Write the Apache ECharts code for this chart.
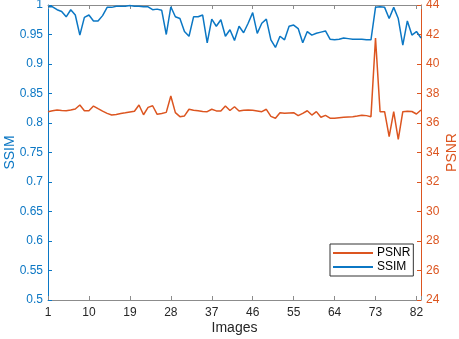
<!DOCTYPE html>
<html>
<head>
<meta charset="utf-8">
<script src="https://cdn.jsdelivr.net/npm/echarts@6/dist/echarts.min.js"></script>
<style>
  html, body { margin: 0; padding: 0; background: #fff; }
  #chart { width: 459px; height: 339px; }
</style>
</head>
<body>
<div id="chart"></div>
<script>
// image index 1..83
var images = [];
for (var n = 1; n <= 83; n++) images.push(n);

var ssim = [
  0.997, 0.997, 0.992, 0.989, 0.980, 0.992, 0.983, 0.949, 0.979, 0.983,
  0.973, 0.973, 0.982, 0.996, 0.996, 0.998, 0.998, 0.998, 0.999, 0.998,
  0.998, 0.997, 0.997, 0.992, 0.993, 0.991, 0.950, 0.997, 0.980, 0.977,
  0.955, 0.947, 0.980, 0.980, 0.983, 0.936, 0.976, 0.964, 0.975, 0.947,
  0.958, 0.940, 0.964, 0.953, 0.969, 0.987, 0.952, 0.969, 0.976, 0.941,
  0.928, 0.947, 0.941, 0.964, 0.966, 0.960, 0.936, 0.955, 0.949, 0.952,
  0.954, 0.956, 0.942, 0.941, 0.942, 0.944, 0.943, 0.942, 0.942, 0.942,
  0.941, 0.941, 0.996, 0.997, 0.996, 0.977, 0.996, 0.977, 0.932, 0.973,
  0.949, 0.955, 0.944
];

var psnr = [
  36.77, 36.83, 36.88, 36.85, 36.83, 36.88, 36.95, 37.22, 36.83, 36.83,
  37.15, 36.97, 36.80, 36.65, 36.54, 36.58, 36.64, 36.69, 36.75, 36.80,
  37.22, 36.56, 37.06, 37.17, 36.59, 36.65, 36.72, 37.83, 36.70, 36.43,
  36.48, 36.93, 36.87, 36.83, 36.78, 36.77, 36.93, 36.82, 36.81, 37.15,
  36.85, 37.10, 36.81, 36.86, 36.88, 36.86, 36.82, 36.77, 36.93, 36.45,
  36.32, 36.70, 36.66, 36.68, 36.70, 36.50, 36.65, 36.83, 36.54, 36.77,
  36.39, 36.52, 36.33, 36.33, 36.36, 36.39, 36.41, 36.43, 36.47, 36.53,
  36.50, 36.43, 41.76, 36.77, 36.77, 35.07, 36.77, 34.89, 36.77, 36.80,
  36.78, 36.61, 36.88
];

var blue = '#0b77c4';
var orange = '#dc5520';
var grey = '#8c8c8c';
var txt = '#262626';
var font = 'Liberation Sans';

function pairs(ys) {
  return images.map(function (x, i) { return [x, ys[i]]; });
}

var myChart = echarts.init(document.getElementById('chart'));
myChart.setOption({
  animation: false,
  textStyle: { fontFamily: font },
  grid: { left: 48, right: 38, top: 5, bottom: 39, containLabel: false, outerBoundsMode: 'none' },
  legend: {
    orient: 'vertical',
    left: 330,
    top: 244,
    data: ['PSNR', 'SSIM'],
    itemWidth: 40,
    itemHeight: 2,
    itemGap: 0,
    icon: 'rect',
    padding: [2, 3, 2, 3],
    borderColor: '#333',
    borderWidth: 1,
    borderRadius: 0,
    backgroundColor: '#fff',
    textStyle: { fontSize: 12, color: '#000', fontFamily: font, lineHeight: 14, padding: [0, 0, 0, -1] }
  },
  xAxis: [
    {
      type: 'value',
      min: 1,
      max: 83,
      interval: 9,
      name: 'Images',
      nameLocation: 'middle',
      nameGap: 21,
      nameMoveOverlap: false,
      nameTextStyle: { fontSize: 14, color: txt, fontFamily: font },
      axisLine: { lineStyle: { color: grey, width: 1 } },
      axisTick: { inside: true, length: 4, lineStyle: { color: grey } },
      axisLabel: {
        color: txt, fontSize: 12, margin: 7, fontFamily: font,
        formatter: function (v) { return v === 83 ? '' : String(v); }
      },
      splitLine: { show: false }
    },
    {
      type: 'value',
      position: 'top',
      min: 1,
      max: 83,
      interval: 9,
      axisLine: { lineStyle: { color: grey, width: 1 } },
      axisTick: { inside: true, length: 4, lineStyle: { color: grey } },
      axisLabel: { show: false },
      splitLine: { show: false }
    }
  ],
  yAxis: [
    {
      type: 'value',
      min: 0.5,
      max: 1,
      interval: 0.05,
      name: 'SSIM',
      nameLocation: 'middle',
      nameGap: 31,
      nameMoveOverlap: false,
      nameTextStyle: { fontSize: 14, color: blue, fontFamily: font },
      axisLine: { show: true, lineStyle: { color: blue, width: 1 } },
      axisTick: { show: true, inside: true, length: 4, lineStyle: { color: blue } },
      axisLabel: {
        color: blue, fontSize: 12, margin: 5, fontFamily: font,
        formatter: function (v) { return String(+v.toFixed(2)); }
      },
      splitLine: { show: false }
    },
    {
      type: 'value',
      position: 'right',
      min: 24,
      max: 44,
      interval: 2,
      name: 'PSNR',
      nameLocation: 'middle',
      nameGap: 24,
      nameMoveOverlap: false,
      nameTextStyle: { fontSize: 14, color: orange, fontFamily: font },
      axisLine: { show: true, lineStyle: { color: orange, width: 1 } },
      axisTick: { show: true, inside: true, length: 4, lineStyle: { color: orange } },
      axisLabel: { color: orange, fontSize: 12, margin: 5, fontFamily: font },
      splitLine: { show: false }
    }
  ],
  series: [
    {
      name: 'PSNR',
      type: 'line',
      xAxisIndex: 0,
      yAxisIndex: 1,
      data: pairs(psnr),
      showSymbol: false,
      lineStyle: { color: orange, width: 1.5 },
      itemStyle: { color: orange }
    },
    {
      name: 'SSIM',
      type: 'line',
      xAxisIndex: 0,
      yAxisIndex: 0,
      data: pairs(ssim),
      showSymbol: false,
      lineStyle: { color: blue, width: 1.5 },
      itemStyle: { color: blue }
    }
  ]
});
</script>
</body>
</html>
